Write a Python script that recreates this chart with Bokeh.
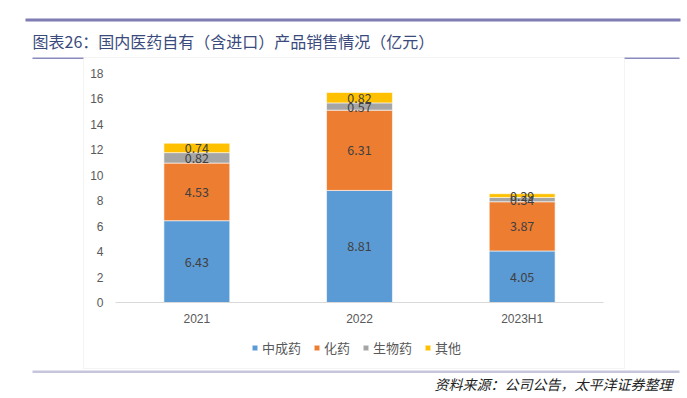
from bokeh.plotting import figure
from bokeh.models import (Range1d, BoxAnnotation, Label, Legend, LegendItem,
                          ColumnDataSource, LabelSet, FixedTicker)
from bokeh.core.properties import value
from bokeh.embed import file_html
from bokeh.resources import INLINE

# ---- data ----
years = ["2021", "2022", "2023H1"]
tcm = [6.43, 8.81, 4.05]      # 中成药
chem = [4.53, 6.31, 3.87]     # 化药
bio = [0.82, 0.57, 0.34]      # 生物药
other = [0.74, 0.82, 0.29]    # 其他
series_keys = ["tcm", "chem", "bio", "other"]
series_names = ["中成药", "化药", "生物药", "其他"]
y_ticks = [0, 2, 4, 6, 8, 10, 12, 14, 16, 18]

title_text = "图表26：国内医药自有（含进口）产品销售情况（亿元）"
source_text = "资料来源：公司公告，太平洋证券整理"

colors = ["#5B9BD5", "#ED7D31", "#A5A5A5", "#FFC000"]
CJK = "Noto Sans CJK SC"

# ---- layout (canvas pixels) ----
W, H = 687, 398
PLOT_L, PLOT_R = 115, 603     # category band
PLOT_T, PLOT_B = 73, 302      # y = 18 .. y = 0
Y_MAX = 18
n = len(years)
ppx = (PLOT_R - PLOT_L) / n
ppy = (PLOT_B - PLOT_T) / Y_MAX
x_range = Range1d(-PLOT_L / ppx, n + (W - PLOT_R) / ppx)
y_range = Range1d(-(H - PLOT_B) / ppy, Y_MAX + PLOT_T / ppy)

xpos = [i + 0.5 for i in range(n)]
src = ColumnDataSource(dict(x=xpos, tcm=tcm, chem=chem, bio=bio, other=other))

p = figure(width=W, height=H, x_range=x_range, y_range=y_range,
           output_backend="svg", toolbar_location=None,
           min_border_left=0, min_border_right=0, min_border_top=0, min_border_bottom=0)
p.outline_line_color = None
p.background_fill_color = "white"
p.border_fill_color = "white"
p.xgrid.grid_line_color = None
p.ygrid.grid_line_color = None

renderers = p.vbar_stack(series_keys, x="x", width=0.405, color=colors, source=src,
                         line_color="white", line_width=0.6)

# data labels
lx, ly, lt = [], [], []
for i in range(n):
    base = 0.0
    for vals in (tcm, chem, bio, other):
        v = vals[i]
        lx.append(xpos[i])
        ly.append(base + v / 2)
        lt.append(f"{v:.2f}")
        base += v
lab_src = ColumnDataSource(dict(x=lx, y=ly, t=lt))
p.add_layout(LabelSet(x="x", y="y", text="t", source=lab_src, text_align="center",
                      text_baseline="middle", text_font_size="12.5px", text_color="#404040",
                      text_font=value(CJK)))

# axes (fixed inside the frame)
ya = p.yaxis[0]
ya.fixed_location = 0
ya.bounds = (0, Y_MAX)
ya.ticker = FixedTicker(ticks=y_ticks)
ya.axis_line_color = None
ya.major_tick_line_color = None
ya.minor_tick_line_color = None
ya.major_tick_out = 0
ya.major_tick_in = 0
ya.minor_tick_out = 0
ya.major_label_text_font = "Liberation Sans"
ya.major_label_text_font_size = "12px"
ya.major_label_text_color = "#595959"
ya.major_label_standoff = 12

xa = p.xaxis[0]
xa.fixed_location = 0
xa.bounds = (0, n)
xa.ticker = FixedTicker(ticks=xpos)
xa.major_label_overrides = {x: y for x, y in zip(xpos, years)}
xa.axis_line_color = "#d9d9d9"
xa.axis_line_width = 1
xa.major_tick_line_color = None
xa.minor_tick_line_color = None
xa.major_tick_out = 0
xa.major_tick_in = 0
xa.minor_tick_out = 0
xa.major_label_text_font = "Liberation Sans"
xa.major_label_text_font_size = "12px"
xa.major_label_text_color = "#595959"
xa.major_label_standoff = 9

# legend
legend = Legend(items=[LegendItem(label=nm, renderers=[r]) for nm, r in zip(series_names, renderers)],
                orientation="horizontal", location=(251, H - 357),
                border_line_color=None, background_fill_alpha=0,
                glyph_width=7, glyph_height=7, label_standoff=4, spacing=12,
                padding=0, margin=0, label_text_font=CJK, label_text_font_size="13px",
                label_text_color="#595959")
p.add_layout(legend, "center")

# decorations (screen units: frame == canvas, origin bottom-left)
def box(l, r, t, b, **kw):
    p.add_layout(BoxAnnotation(left=l, right=r, top=H - t, bottom=H - b,
                               left_units="screen", right_units="screen",
                               top_units="screen", bottom_units="screen", **kw))

box(25, 680, 18, 21, fill_color="#7f7db3", fill_alpha=1, line_color=None)
box(32, 83, 57, 58.5, fill_color="#8c8abd", fill_alpha=1, line_color=None)
box(624, 679, 57, 58.5, fill_color="#8c8abd", fill_alpha=1, line_color=None)
box(83, 624, 57, 368, fill_alpha=0, line_color="#d9d9d9", line_width=1)
box(32, 679, 370, 372.5, fill_color="#c5c5dc", fill_alpha=1, line_color=None)

p.add_layout(Label(x=32, y=H - 40, x_units="screen", y_units="screen", text=title_text,
                   text_font=CJK, text_font_size="16px", text_color="#3a4a7c",
                   text_baseline="middle", text_align="left"))
p.add_layout(Label(x=672, y=H - 383, x_units="screen", y_units="screen", text=source_text,
                   text_font=CJK, text_font_size="14px", text_color="#222222",
                   text_font_style="italic", text_baseline="middle", text_align="right"))

open("out.html", "w").write(file_html(p, INLINE))
